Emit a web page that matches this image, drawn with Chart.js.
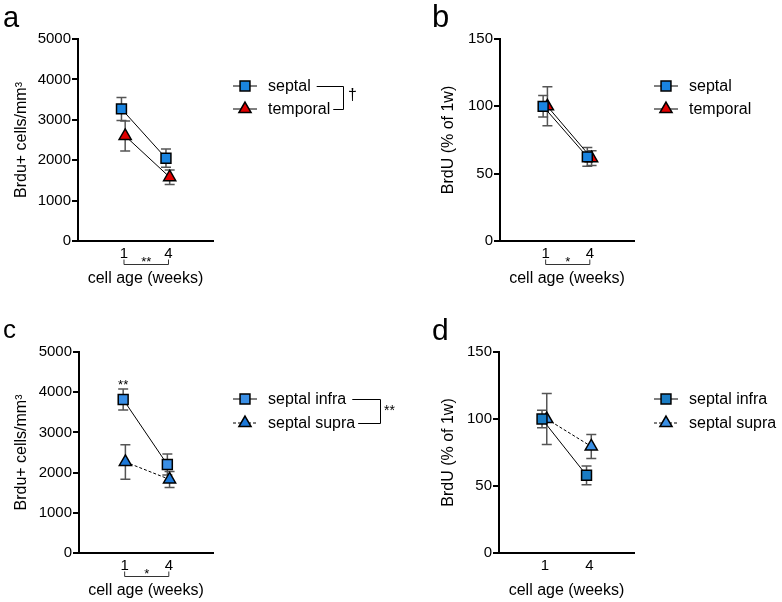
<!DOCTYPE html>
<html>
<head>
<meta charset="utf-8">
<script src="https://cdn.jsdelivr.net/npm/chart.js@4/dist/chart.umd.min.js"></script>
<style>
  html, body { margin: 0; padding: 0; background: #fff; overflow: hidden; }
  body { width: 782px; height: 602px; position: relative; }
  canvas { position: absolute; }
</style>
</head>
<body>
<canvas id="pa" width="391" height="300" style="left:0;top:0"></canvas>
<canvas id="pb" width="391" height="300" style="left:391px;top:0"></canvas>
<canvas id="pc" width="400" height="302" style="left:0;top:300px"></canvas>
<canvas id="pd" width="391" height="302" style="left:391px;top:300px"></canvas>
<script>
// weeks after BrdU
const weeks = [1, 4];
const cellsTicks = [0, 1000, 2000, 3000, 4000, 5000];
const pctTicks = [0, 50, 100, 150];

// a: cells / mm3
const septalCells = [3270, 2050];
const septalCellsErr = [285, 225];
const temporalCells = [2600, 1580];
const temporalCellsErr = [370, 180];
// b: % of 1w
const septalPct = [100, 62.5];
const septalPctErr = [8, 7];
const temporalPct = [100, 61.5];
const temporalPctErr = [14.5, 5.5];
// c: cells / mm3
const infraCells = [3820, 2200];
const infraCellsErr = [262, 262];
const supraCells = [2265, 1830];
const supraCellsErr = [430, 200];
// d: % of 1w
const infraPct = [100, 58];
const infraPctErr = [6.5, 7];
const supraPct = [100, 79.5];
const supraPctErr = [19, 9];

Chart.defaults.font.family = '"Liberation Sans", Arial, sans-serif';
Chart.defaults.color = '#000';

const FONT = '"Liberation Sans", Arial, sans-serif';

const errorBars = {
  id: 'errorBars',
  beforeDatasetsDraw(chart) {
    const { ctx } = chart;
    const y = chart.scales.y;
    chart.data.datasets.forEach((ds, di) => {
      const meta = chart.getDatasetMeta(di);
      ctx.save();
      ctx.strokeStyle = '#555';
      ctx.lineWidth = 1.5;
      meta.data.forEach((pt, i) => {
        const v = ds.data[i].y, e = ds.errors[i];
        const t = y.getPixelForValue(v + e), b = y.getPixelForValue(v - e);
        ctx.beginPath();
        ctx.moveTo(pt.x, t); ctx.lineTo(pt.x, b);
        ctx.moveTo(pt.x - 5, t); ctx.lineTo(pt.x + 5, t);
        ctx.moveTo(pt.x - 5, b); ctx.lineTo(pt.x + 5, b);
        ctx.stroke();
      });
      ctx.restore();
    });
  }
};

const extras = {
  id: 'extras',
  afterDraw(chart, args, o) {
    const { ctx } = chart;
    const x = chart.scales.x, y = chart.scales.y;
    ctx.save();
    // panel letter
    ctx.fillStyle = '#000';
    ctx.font = o.letterSize + 'px ' + FONT;
    ctx.textBaseline = 'alphabetic';
    ctx.textAlign = 'left';
    ctx.fillText(o.letter, o.letterX, o.letterY);

    // legend
    ctx.font = '16px ' + FONT;
    ctx.textBaseline = 'middle';
    const ends = [];
    chart.data.datasets.forEach((ds, i) => {
      const ly = o.legY + i * o.legDy;
      ctx.strokeStyle = ds.borderColor;
      ctx.lineWidth = 1;
      ctx.setLineDash(ds.borderDash || []);
      ctx.beginPath();
      ctx.moveTo(o.legX, ly); ctx.lineTo(o.legX + 24, ly);
      ctx.stroke();
      ctx.setLineDash([]);
      ctx.fillStyle = ds.pointBackgroundColor;
      ctx.strokeStyle = '#000';
      ctx.lineWidth = 1.5;
      Chart.helpers.drawPoint(ctx, { pointStyle: ds.pointStyle, radius: ds.pointRadius, borderWidth: 1.5, rotation: 0 }, o.legX + 12, ly);
      ctx.fillStyle = '#000';
      ctx.fillText(ds.label, o.legX + 35, ly + 1);
      ends.push(o.legX + 35 + ctx.measureText(ds.label).width);
    });
    if (o.bracketX) {
      const y0 = o.legY, y1 = o.legY + o.legDy;
      ctx.strokeStyle = '#000';
      ctx.lineWidth = 1;
      ctx.beginPath();
      ctx.moveTo(ends[0] + 6, y0 + 0.5); ctx.lineTo(o.bracketX + 0.5, y0 + 0.5);
      ctx.lineTo(o.bracketX + 0.5, y1 + 0.5); ctx.lineTo(ends[1] + 3, y1 + 0.5);
      ctx.stroke();
      ctx.textBaseline = 'alphabetic';
      ctx.font = o.markSize + 'px ' + FONT;
      ctx.fillText(o.mark, o.bracketX + o.markDx, o.markY);
    }

    // comparison between weeks, under the axis
    if (o.sig) {
      const x1 = x.getPixelForValue(weeks[0]), x2 = x.getPixelForValue(weeks[1]);
      const by = Math.round(chart.chartArea.bottom + 23) + 0.5;
      ctx.strokeStyle = '#333';
      ctx.lineWidth = 1;
      ctx.beginPath();
      ctx.moveTo(x1, by - 5); ctx.lineTo(x1, by); ctx.lineTo(x2, by); ctx.lineTo(x2, by - 5);
      ctx.stroke();
      ctx.font = '13px ' + FONT;
      ctx.textAlign = 'center';
      ctx.textBaseline = 'alphabetic';
      ctx.fillText(o.sig, (x1 + x2) / 2, by + 1);
    }
    // stars over a point
    if (o.pointSig) {
      const ds = chart.data.datasets[o.pointSig.ds];
      const pt = chart.getDatasetMeta(o.pointSig.ds).data[o.pointSig.i];
      const top = y.getPixelForValue(ds.data[o.pointSig.i].y + ds.errors[o.pointSig.i]);
      ctx.font = '13px ' + FONT;
      ctx.textAlign = 'center';
      ctx.textBaseline = 'alphabetic';
      ctx.fillText(o.pointSig.text, pt.x, top);
    }
    ctx.restore();
  }
};

function series(label, vals, errs, dodge, color, style, dash) {
  return {
    label: label,
    data: weeks.map((w, i) => ({ x: w + dodge, y: vals[i] })),
    errors: errs,
    borderColor: '#000',
    borderWidth: 1,
    borderDash: dash || [],
    pointStyle: style,
    pointRadius: 7,
    pointBackgroundColor: color,
    pointBorderColor: '#000',
    pointBorderWidth: 1.5,
    tension: 0
  };
}

function makeChart(id, datasets, yTitle, yTicks, box, extra) {
  const canvas = document.getElementById(id);
  const W = canvas.width, H = canvas.height;
  return new Chart(canvas.getContext('2d'), {
    type: 'line',
    data: { datasets: datasets },
    options: {
      responsive: false,
      animation: false,
      events: [],
      layout: { padding: { left: 0, top: box.top, right: W - box.right, bottom: 0 } },
      plugins: {
        legend: { display: false },
        tooltip: { enabled: false },
        extras: extra
      },
      scales: {
        x: {
          type: 'linear',
          min: -2.1,
          max: 7,
          afterBuildTicks: s => { s.ticks = weeks.map(v => ({ value: v })); },
          afterFit: s => { s.height = H - box.bottom; },
          grid: { display: false },
          border: { color: '#000', width: 2 },
          ticks: { padding: -4, font: { size: 15 }, color: '#000', callback: v => String(v) },
          title: { display: true, text: 'cell age (weeks)', font: { size: 16 }, color: '#000',
                   padding: { top: 0, bottom: H - box.xTitle - 11.6 } }
        },
        y: {
          min: yTicks[0],
          max: yTicks[yTicks.length - 1],
          afterBuildTicks: s => { s.ticks = yTicks.map(v => ({ value: v })); },
          afterFit: s => { s.width = box.left; },
          grid: { drawOnChartArea: false, color: '#000', lineWidth: 2, tickLength: 6 },
          border: { color: '#000', width: 2 },
          ticks: { padding: 1, font: { size: 15 }, color: '#000', callback: v => String(v) },
          title: { display: true, text: yTitle, font: { size: 16 }, color: '#000',
                   padding: { top: box.yTitle - 9.6, bottom: 0 } }
        }
      }
    },
    plugins: [errorBars, extras]
  });
}

const blue = '#1a84e0';
const red = '#e00000';

makeChart('pa', [
  series('septal', septalCells, septalCellsErr, -0.17, blue, 'rect'),
  series('temporal', temporalCells, temporalCellsErr, 0.08, red, 'triangle')
], 'Brdu+ cells/mm\u00b3', cellsTicks,
  { left: 78, top: 39, right: 213, bottom: 241, xTitle: 277, yTitle: 22 },
  { letter: 'a', letterSize: 29, letterX: 3, letterY: 27,
    legX: 233, legY: 86, legDy: 23, bracketX: 343, mark: '\u2020', markSize: 16, markDx: 5, markY: 100,
    sig: '**' });

makeChart('pb', [
  series('septal', septalPct, septalPctErr, -0.17, blue, 'rect'),
  series('temporal', temporalPct, temporalPctErr, 0.12, red, 'triangle')
], 'BrdU (% of 1w)', pctTicks,
  { left: 109, top: 39, right: 243, bottom: 241, xTitle: 277, yTitle: 58 },
  { letter: 'b', letterSize: 31, letterX: 41, letterY: 27,
    legX: 263, legY: 86, legDy: 23, sig: '*' });

makeChart('pc', [
  series('septal infra', infraCells, infraCellsErr, -0.1, '#3a8fe6', 'rect'),
  series('septal supra', supraCells, supraCellsErr, 0.05, '#1c78d8', 'triangle', [3, 2])
], 'Brdu+ cells/mm\u00b3', cellsTicks,
  { left: 79, top: 52, right: 213, bottom: 253, xTitle: 289, yTitle: 22 },
  { letter: 'c', letterSize: 26, letterX: 3, letterY: 38,
    legX: 233, legY: 99, legDy: 24, bracketX: 380, mark: '**', markSize: 14, markDx: 4, markY: 115,
    sig: '*', pointSig: { ds: 0, i: 0, text: '**' } });

makeChart('pd', [
  series('septal infra', infraPct, infraPctErr, -0.2, '#1a7cc4', 'rect'),
  series('septal supra', supraPct, supraPctErr, 0.12, '#3a8fe4', 'triangle', [3, 2])
], 'BrdU (% of 1w)', pctTicks,
  { left: 108, top: 52, right: 243, bottom: 253, xTitle: 289, yTitle: 58 },
  { letter: 'd', letterSize: 30, letterX: 41, letterY: 40,
    legX: 263, legY: 99, legDy: 24 });
</script>
</body>
</html>
